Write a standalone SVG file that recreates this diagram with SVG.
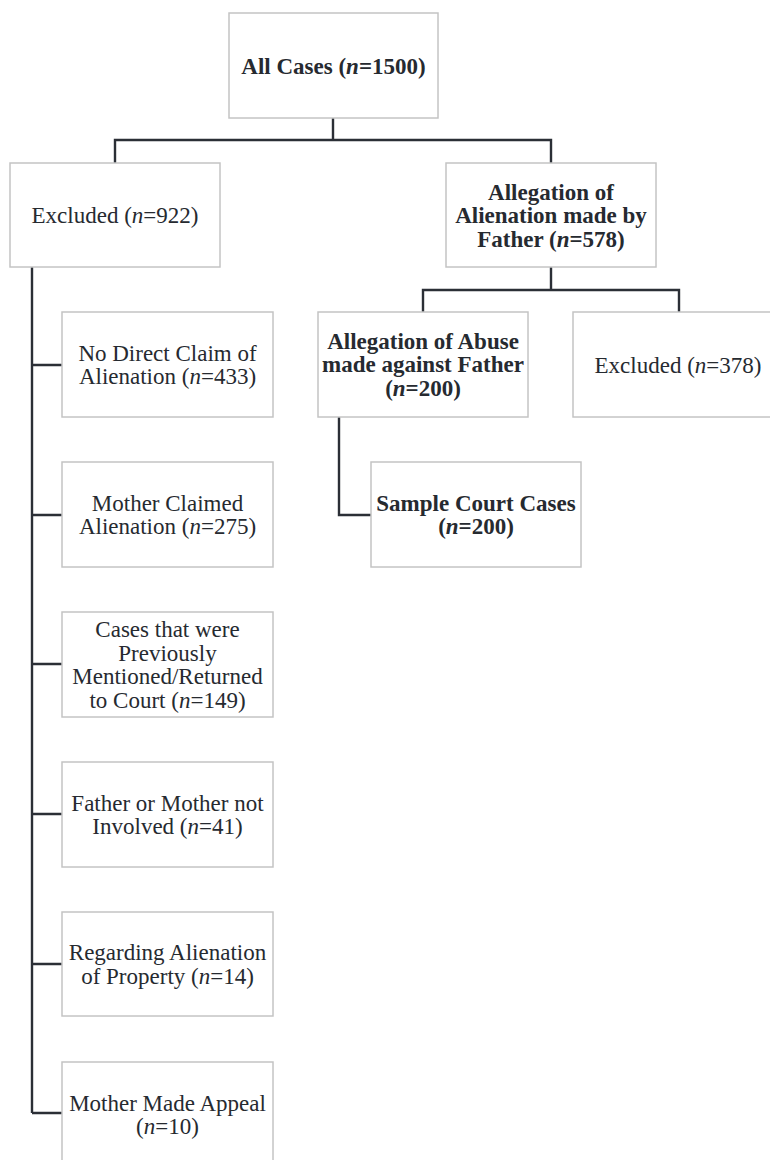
<svg xmlns="http://www.w3.org/2000/svg" width="770" height="1160" viewBox="0 0 770 1160">
<style>
.box{fill:#fff;stroke:#c4c4c4;stroke-width:1.5}
.t{font-family:"Liberation Serif","Times New Roman",serif;font-size:23px;fill:#262a30;text-anchor:middle}
.b{font-weight:bold}
.i{font-style:italic}
.c{fill:none;stroke:#2b2f36;stroke-width:2.4}
</style>
<rect width="770" height="1160" fill="#fff"/>
<g id="connectors">
<path class="c" d="M333,118 V140 M115,163 V140 H551 V163"/>
<path class="c" d="M551,267 V290 M423,312 V290 H679 V312"/>
<path class="c" d="M339,417 V515 H371"/>
<path class="c" d="M32,267 V1113 M32,365 H62 M32,515 H62 M32,664 H62 M32,814 H62 M32,964 H62 M32,1113 H62"/>
</g>
<g id="all">
<rect class="box" x="229" y="13" width="209" height="105"/>
<text class="t b" x="333.5" y="73.5">All Cases (<tspan class="i">n</tspan>=1500)</text>
</g>
<g id="excluded922">
<rect class="box" x="10" y="163" width="210" height="104"/>
<text class="t" x="115" y="223">Excluded (<tspan class="i">n</tspan>=922)</text>
</g>
<g id="father">
<rect class="box" x="446" y="163" width="210" height="104"/>
<text class="t b" x="551" y="199.5">Allegation of</text>
<text class="t b" x="551" y="223">Alienation made by</text>
<text class="t b" x="551" y="246.5">Father (<tspan class="i">n</tspan>=578)</text>
</g>
<g id="abuse">
<rect class="box" x="318" y="312" width="210" height="105"/>
<text class="t b" x="423" y="348.75">Allegation of Abuse</text>
<text class="t b" x="423" y="372.25">made against Father</text>
<text class="t b" x="423" y="395.75">(<tspan class="i">n</tspan>=200)</text>
</g>
<g id="excluded378">
<rect class="box" x="573" y="312" width="210" height="105"/>
<text class="t" x="678" y="372.5">Excluded (<tspan class="i">n</tspan>=378)</text>
</g>
<g id="sample">
<rect class="box" x="371" y="462" width="210" height="105"/>
<text class="t b" x="476" y="510.75">Sample Court Cases</text>
<text class="t b" x="476" y="534.25">(<tspan class="i">n</tspan>=200)</text>
</g>
<g id="nodirect">
<rect class="box" x="62" y="312" width="211" height="105"/>
<text class="t" x="167.5" y="360.75">No Direct Claim of</text>
<text class="t" x="167.5" y="384.25">Alienation (<tspan class="i">n</tspan>=433)</text>
</g>
<g id="mother">
<rect class="box" x="62" y="462" width="211" height="105"/>
<text class="t" x="167.5" y="510.75">Mother Claimed</text>
<text class="t" x="167.5" y="534.25">Alienation (<tspan class="i">n</tspan>=275)</text>
</g>
<g id="previous">
<rect class="box" x="62" y="612" width="211" height="105"/>
<text class="t" x="167.5" y="637.25">Cases that were</text>
<text class="t" x="167.5" y="660.75">Previously</text>
<text class="t" x="167.5" y="684.25">Mentioned/Returned</text>
<text class="t" x="167.5" y="707.75">to Court (<tspan class="i">n</tspan>=149)</text>
</g>
<g id="notinvolved">
<rect class="box" x="62" y="762" width="211" height="105"/>
<text class="t" x="167.5" y="810.75">Father or Mother not</text>
<text class="t" x="167.5" y="834.25">Involved (<tspan class="i">n</tspan>=41)</text>
</g>
<g id="property">
<rect class="box" x="62" y="912" width="211" height="104"/>
<text class="t" x="167.5" y="960.25">Regarding Alienation</text>
<text class="t" x="167.5" y="983.75">of Property (<tspan class="i">n</tspan>=14)</text>
</g>
<g id="appeal">
<rect class="box" x="62" y="1062" width="211" height="105"/>
<text class="t" x="167.5" y="1110.5">Mother Made Appeal</text>
<text class="t" x="167.5" y="1134">(<tspan class="i">n</tspan>=10)</text>
</g>
</svg>
